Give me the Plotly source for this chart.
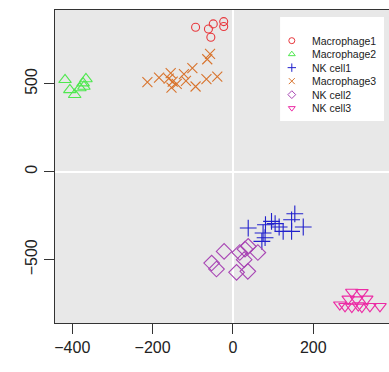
import plotly.graph_objects as go

# ---- data ----
mac1_x = [-93, -61, -49, -55, -23, -23]
mac1_y = [822, 812, 841, 765, 854, 826]

mac2_x = [-418, -406, -394, -381, -373, -366, -371]
mac2_y = [523, 466, 438, 476, 504, 528, 485]

nk1_x = [38, 75, 81, 96, 105, 115, 72, 125, 146, 146, 154, 175, 80]
nk1_y = [-320, -348, -301, -282, -295, -314, -396, -339, -339, -273, -239, -314, -375]

mac3_x = [-213, -184, -155, -150, -153, -122, -117, -101, -93, -66, -39, -57, -64, -140, -160]
mac3_y = [510, 536, 561, 513, 479, 555, 517, 589, 485, 527, 541, 670, 640, 500, 530]

nk2_x = [-22, -53, -41, 17, 38, 28, 62, 9, 37, 30]
nk2_y = [-453, -519, -553, -459, -424, -500, -459, -572, -566, -440]

nk3_x = [296, 321, 287, 308, 333, 279, 296, 312, 321, 266, 341, 366]
nk3_y = [-684, -686, -723, -727, -723, -765, -769, -761, -769, -756, -765, -765]

names = ["Macrophage1", "Macrophage2", "NK cell1", "Macrophage3", "NK cell2", "NK cell3"]
colors = ["#e8383d", "#4fe84f", "#2020cc", "#d8742e", "#a846b4", "#ec2aa4"]
symbols = ["circle-open", "triangle-up-open", "cross-thin-open", "x-thin-open",
           "diamond-open", "triangle-down-open"]
sizes = [8, 11, 12, 10, 12, 11]
xs = [mac1_x, mac2_x, nk1_x, mac3_x, nk2_x, nk3_x]
ys = [mac1_y, mac2_y, nk1_y, mac3_y, nk2_y, nk3_y]

FONT = "Liberation Sans, Arial"

fig = go.Figure()
for n, c, s, sz, x, y in zip(names, colors, symbols, sizes, xs, ys):
    fig.add_trace(go.Scatter(
        x=x, y=y, mode="markers", name=n, showlegend=False,
        marker=dict(symbol=s, size=sz, color=c, line=dict(color=c, width=1.1)),
    ))

# ---- hand-drawn legend (compact, R style) on an overlay axis in [0,1] ----
leg_x0, leg_x1, leg_y0, leg_y1 = 0.674, 0.985, 0.645, 0.978
row_top, row_step = 0.902, 0.0431
mark_x, text_x = 0.709, 0.764
fig.add_shape(type="rect", xref="x domain", yref="y domain",
              x0=leg_x0, x1=leg_x1, y0=leg_y0, y1=leg_y1,
              fillcolor="white", line=dict(width=0), layer="below")
for i, (n, c, s) in enumerate(zip(names, colors, symbols)):
    ry = row_top - i * row_step
    fig.add_trace(go.Scatter(
        x=[mark_x], y=[ry], xaxis="x2", yaxis="y2", mode="markers",
        showlegend=False, hoverinfo="skip",
        marker=dict(symbol=s, size=6, color=c, line=dict(color=c, width=1)),
    ))
    fig.add_annotation(x=text_x, y=ry, xref="x domain", yref="y domain",
                       text=n, showarrow=False, xanchor="left", yanchor="middle",
                       font=dict(family=FONT, size=10.5, color="#222222"))

axis_common = dict(
    showgrid=False, zeroline=True, zerolinecolor="white", zerolinewidth=1.5,
    showline=True, linecolor="#333333", linewidth=1.3,
    ticks="outside", ticklen=10, tickcolor="#333333", tickwidth=1.3,
    tickfont=dict(family=FONT, size=16, color="#222222"),
    automargin=False,
)

fig.update_layout(
    width=389, height=372,
    margin=dict(l=55, r=0, t=10, b=49),
    paper_bgcolor="white", plot_bgcolor="#e8e8e8",
    xaxis=dict(range=[-443, 388.5], tickvals=[-400, -200, 0, 200], mirror=True, **axis_common),
    yaxis=dict(range=[-860, 920], tickvals=[-500, 0, 500], tickangle=-90, **axis_common),
    xaxis2=dict(range=[0, 1], overlaying="x", visible=False, fixedrange=True),
    yaxis2=dict(range=[0, 1], overlaying="y", visible=False, fixedrange=True),
    showlegend=False,
)

# remove the default 8px page margin so the figure sits at the window's corner
fig.write_html("out.html",
               config={"displayModeBar": False},
               post_script="document.body.style.margin='0';document.body.style.overflow='hidden';")
